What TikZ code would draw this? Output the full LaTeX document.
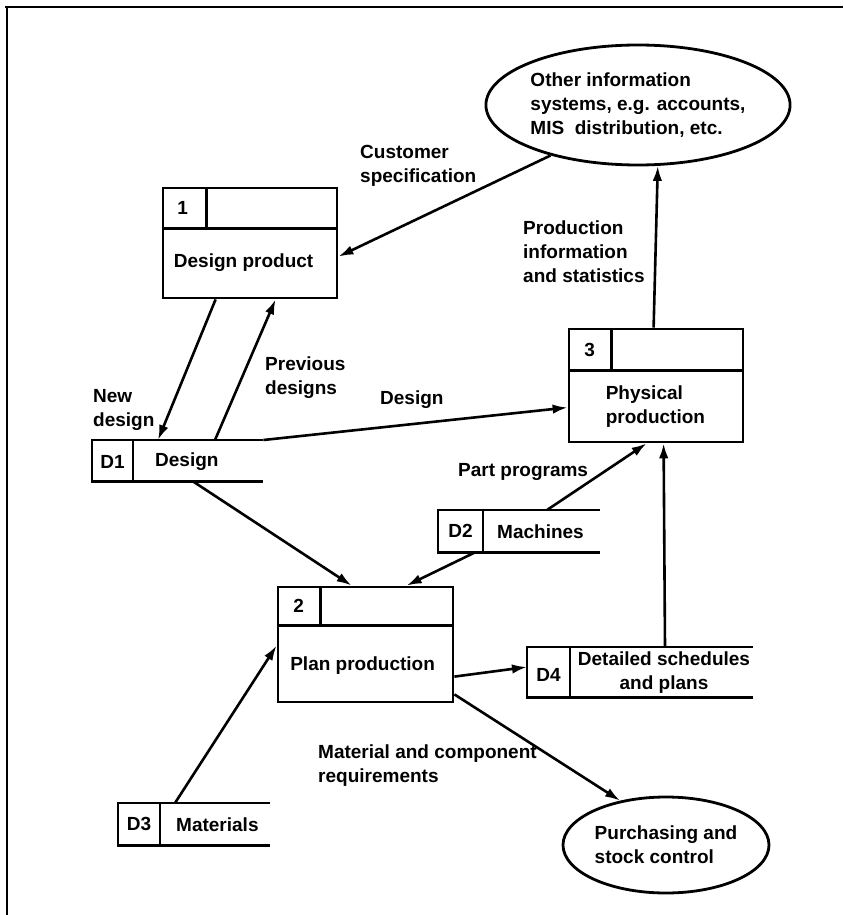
\documentclass[tikz,border=0pt]{standalone}
\usepackage{fontspec}
\setmainfont{Liberation Sans}
\usetikzlibrary{arrows.meta,calc,shapes.geometric}
\begin{document}
\begin{tikzpicture}[x=1pt,y=-1pt,
  every node/.style={font=\bfseries\fontsize{19}{24}\selectfont, inner sep=0pt},
  ln/.style={line width=2.8pt, line join=miter},
  flow/.style={line width=2.6pt, -{Latex[length=15pt,width=9.5pt]}},
  procbox/.style={draw, rectangle, line width=2.8pt, minimum width=174pt},
  storebox/.style={rectangle, minimum height=42pt},
  extent/.style={draw, ellipse, line width=2.8pt, align=left},
  lbl/.style={anchor=west, align=left}
]
\useasboundingbox (0,0) rectangle (843,915);

% page frame
\draw[line width=2.2pt] (5,7) -- (843,7);
\draw[line width=2.2pt] (7,7) -- (7,915);

% external entities
\node[extent, minimum width=262pt, minimum height=120pt] (ext1) at (638,105)
  {Other information\\systems, e.g. accounts,\\MIS\ \ distribution, etc.};
\node[extent, minimum width=206pt, minimum height=96pt] (ext2) at (666,845)
  {Purchasing and\\stock control};

% process 1
\node[procbox, minimum height=110pt] (b1) at (250,243) {};
\draw[ln] ($(b1.north west)+(0,42)$) -- ($(b1.north east)+(0,42)$);
\draw[ln] ($(b1.north west)+(45,0)$) -- ($(b1.north west)+(45,42)$);
\node (b1n) at ($(b1.north west)+(21,21)$) {1};
\node (b1t) at ($(b1.north west)+(82,76)$) {Design product};

% process 3
\node[procbox, minimum height=113pt] (b3) at (656,385.5) {};
\draw[ln] ($(b3.north west)+(0,43)$) -- ($(b3.north east)+(0,43)$);
\draw[ln] ($(b3.north west)+(44,0)$) -- ($(b3.north west)+(44,43)$);
\node (b3n) at ($(b3.north west)+(22,22)$) {3};
\node[anchor=west, align=left] (b3t) at ($(b3.north west)+(38,79)$) {Physical\\production};

% process 2
\node[procbox, minimum width=175pt, minimum height=115pt] (b2) at (365.5,644.5) {};
\draw[ln] ($(b2.north west)+(0,40)$) -- ($(b2.north east)+(0,40)$);
\draw[ln] ($(b2.north west)+(44,0)$) -- ($(b2.north west)+(44,40)$);
\node (b2n) at ($(b2.north west)+(22,20)$) {2};
\node (b2t) at ($(b2.north west)+(86,80)$) {Plan production};

% data store D1 (its top edge runs on into the design flow)
\node[storebox, minimum width=171pt, minimum height=41pt, anchor=north west] (d1) at (92,440) {};
\draw[ln] (d1.north east) -- (d1.north west) -- (d1.south west) -- (d1.south east);
\draw[ln] ($(d1.north west)+(41,0)$) -- ($(d1.south west)+(41,0)$);
\node (d1n) at ($(d1.west)+(20.5,1)$) {D1};
\node[anchor=west] (d1t) at ($(d1.west)+(63,1)$) {Design};

% data store D2
\node[storebox, minimum width=162pt, anchor=north west] (d2) at (438,510) {};
\draw[ln] (d2.north east) -- (d2.north west) -- (d2.south west) -- (d2.south east);
\draw[ln] ($(d2.north west)+(45,0)$) -- ($(d2.south west)+(45,0)$);
\node (d2n) at ($(d2.west)+(22.5,0)$) {D2};
\node[anchor=west] (d2t) at ($(d2.west)+(59,1)$) {Machines};

% data store D4
\node[storebox, minimum width=226pt, minimum height=50pt, anchor=north west] (d4) at (527,647) {};
\draw[ln] (d4.north east) -- (d4.north west) -- (d4.south west) -- (d4.south east);
\draw[ln] ($(d4.north west)+(43,0)$) -- ($(d4.south west)+(43,0)$);
\node (d4n) at ($(d4.west)+(21.5,3)$) {D4};
\node[align=center] (d4t) at ($(d4.west)+(137,0)$) {Detailed schedules\\and plans};

% data store D3
\node[storebox, minimum width=152pt, anchor=north west] (d3) at (118,803) {};
\draw[ln] (d3.north east) -- (d3.north west) -- (d3.south west) -- (d3.south east);
\draw[ln] ($(d3.north west)+(42,0)$) -- ($(d3.south west)+(42,0)$);
\node (d3n) at ($(d3.west)+(21,0)$) {D3};
\node[anchor=west] (d3t) at ($(d3.west)+(58,0)$) {Materials};

% data flows
\draw[flow] (ext1.210) -- ($(b1.north east)+(0,70)$);
\draw[flow] ($(b3.north west)+(86,0)$) -- (ext1.-72);
\draw[flow] ($(b1.south west)+(54,0)$) -- ($(d1.north west)+(66,0)$);
\draw[flow] ($(d1.north west)+(123,0)$) -- ($(b1.south west)+(114,0)$);
\draw[flow] (d1.north east) -- ($(b3.south west)!0.31!(b3.north west)$);
\draw[flow] ($(d1.south west)+(101,0)$) -- ($(b2.north west)+(75,0)$);
\draw[flow] ($(d2.south west)+(37,0)$) -- ($(b2.north west)+(130,0)$);
\draw[flow] ($(d2.north west)+(109,0)$) -- ($(b3.south west)+(79,0)$);
\draw[flow] ($(d4.north west)+(138,0)$) -- ($(b3.south west)+(96,0)$);
\draw[flow] ($(b2.north east)+(0,91)$) -- ($(d4.north west)+(0,20)$);
\draw[flow] ($(b2.south east)+(0,-9)$) -- (ext2.136);
\draw[flow] ($(d3.north west)+(57,0)$) -- ($(b2.north west)+(0,60)$);

% flow labels
\node[lbl] (lcust) at (360,166) {Customer\\specification};
\node[lbl] (lprod) at (523,252) {Production\\information\\and statistics};
\node[lbl] (lnew) at (93,410) {New\\design};
\node[lbl] (lprev) at (265,378) {Previous\\designs};
\node[lbl] (ldes) at (380,400) {Design};
\node[lbl] (lpart) at (458,472) {Part programs};
\node[lbl] (lmat) at (318,766) {Material and component\\requirements};
\end{tikzpicture}
\end{document}
